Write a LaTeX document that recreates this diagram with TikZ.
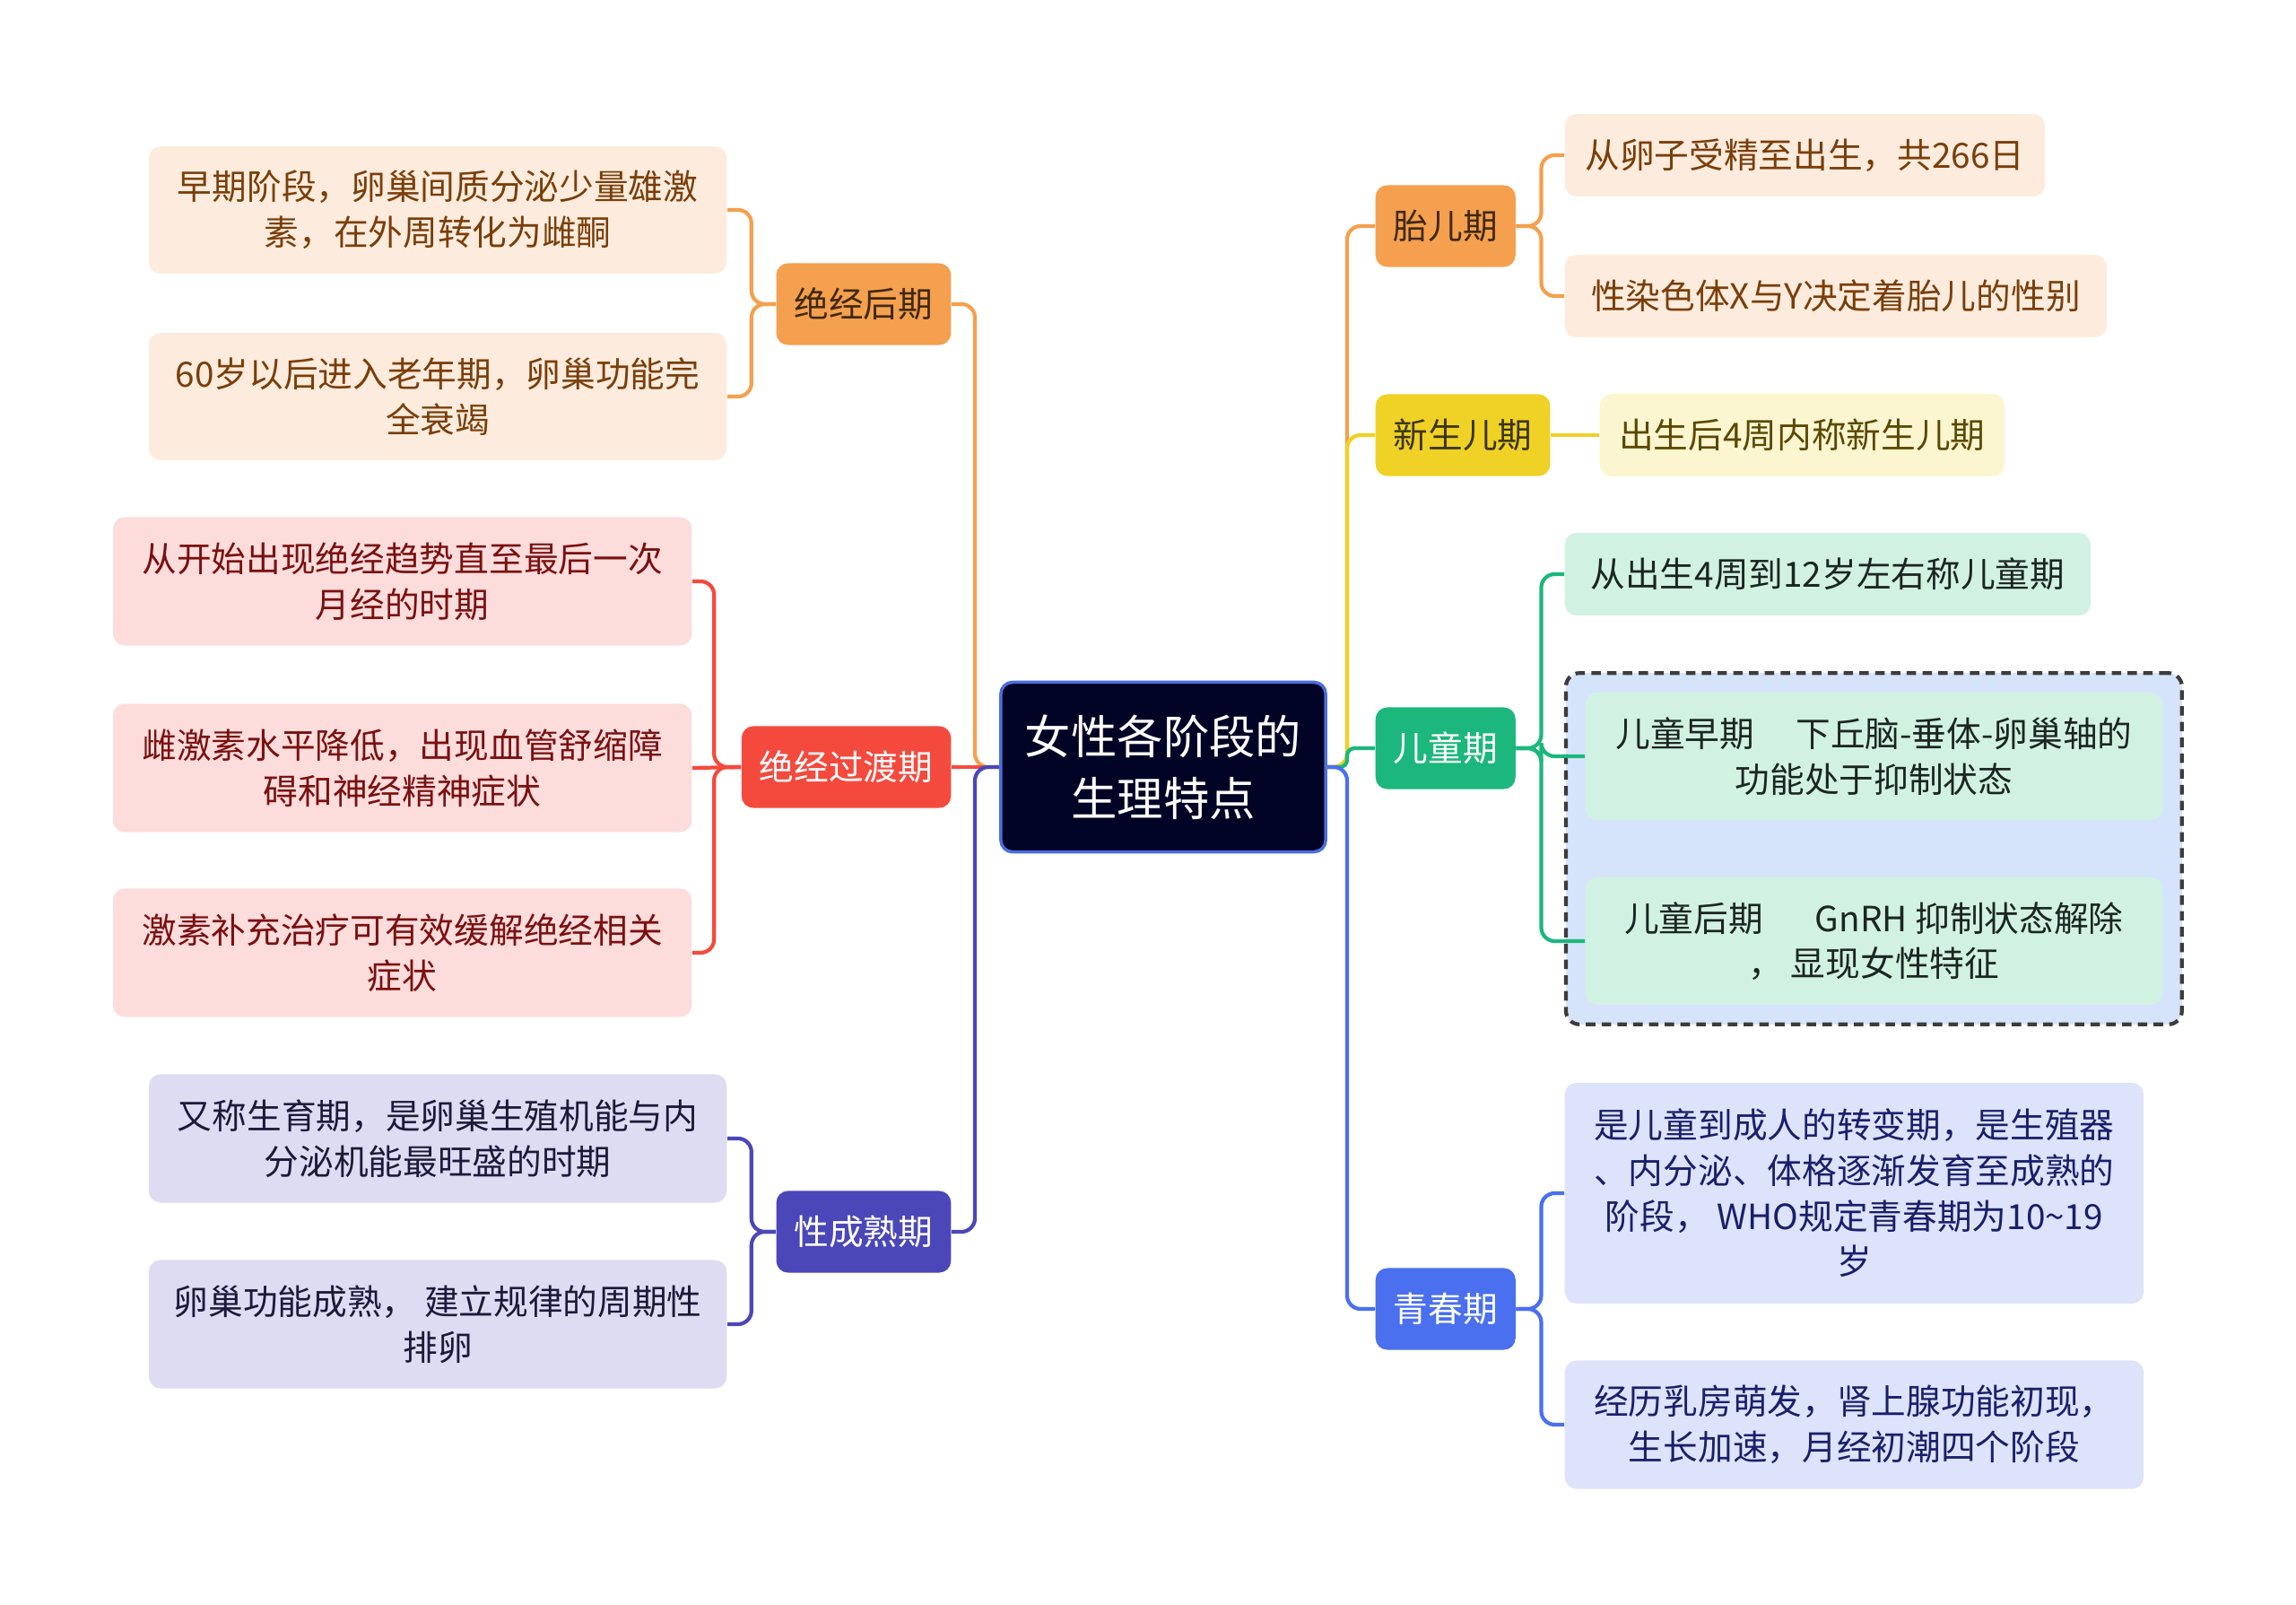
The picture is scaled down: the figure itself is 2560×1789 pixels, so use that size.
\documentclass[tikz,border=0pt]{standalone}
\usepackage{fontspec}
\setmainfont{Noto Sans CJK SC}
\usepackage{tikz}
\usetikzlibrary{positioning, fit, backgrounds}
\definecolor{rootfill}{RGB}{2, 4, 38}
\definecolor{rootline}{RGB}{74, 111, 220}
\definecolor{myorange}{RGB}{244, 160, 78}
\definecolor{orangeleaf}{RGB}{253, 236, 221}
\definecolor{orangetext}{RGB}{122, 62, 10}
\definecolor{orangedark}{RGB}{64, 40, 15}
\definecolor{myyellow}{RGB}{240, 209, 37}
\definecolor{yellowleaf}{RGB}{252, 246, 208}
\definecolor{yellowtext}{RGB}{90, 72, 0}
\definecolor{yellowdark}{RGB}{59, 53, 16}
\definecolor{mygreen}{RGB}{28, 183, 124}
\definecolor{greenleaf}{RGB}{209, 242, 226}
\definecolor{greentext}{RGB}{27, 37, 33}
\definecolor{groupfill}{RGB}{214, 228, 251}
\definecolor{groupline}{RGB}{60, 60, 60}
\definecolor{myblue}{RGB}{74, 111, 239}
\definecolor{blueleaf}{RGB}{221, 227, 250}
\definecolor{bluetext}{RGB}{26, 31, 107}
\definecolor{myred}{RGB}{244, 74, 62}
\definecolor{redleaf}{RGB}{253, 220, 220}
\definecolor{redtext}{RGB}{122, 16, 16}
\definecolor{mypurple}{RGB}{75, 71, 184}
\definecolor{purpleleaf}{RGB}{222, 220, 242}
\definecolor{purpletext}{RGB}{28, 26, 58}

\begin{document}
\begin{tikzpicture}[x=0.01cm, y=-0.01cm,
    root/.style={draw=rootline, fill=rootfill, line width=1pt, rounded corners=0.13cm, text=white, align=center,
        font=\fontsize{14.6}{19.5}\selectfont, minimum width=3.62cm, minimum height=1.89cm},
    stage/.style={rounded corners=0.13cm, inner xsep=0.2cm, inner ysep=0pt, minimum height=0.91cm,
        font=\fontsize{11}{14}\selectfont},
    leaf/.style={rounded corners=0.13cm, inner xsep=0.2cm, inner ysep=0pt, align=center,
        font=\fontsize{11}{14.4}\selectfont},
    link/.style={line width=1.2pt, rounded corners=0.15cm}]
    \useasboundingbox (0,0) rectangle (2560,1789);

    % 中心主题
    \node[root] (root) at (1297,855) {女性各阶段的\\生理特点};
    \coordinate (rt) at (1502,855);
    \coordinate (lt) at (1087,855);

    % 右侧阶段
    \node[stage, fill=myorange, text=orangedark, anchor=west] (fetal) at (1533,252) {胎儿期};
    \node[stage, fill=myyellow, text=yellowdark, anchor=west] (newborn) at (1533,485) {新生儿期};
    \node[stage, fill=mygreen, text=white, anchor=west] (child) at (1533,834) {儿童期};
    \node[stage, fill=myblue, text=white, anchor=west] (puberty) at (1533,1459) {青春期};

    % 左侧阶段
    \node[stage, fill=myorange, text=orangedark, anchor=east] (postm) at (1061,339) {绝经后期};
    \node[stage, fill=myred, text=white, anchor=east] (trans) at (1061,855) {绝经过渡期};
    \node[stage, fill=mypurple, text=white, anchor=east] (mature) at (1061,1373) {性成熟期};

    % 胎儿期
    \node[leaf, fill=orangeleaf, text=orangetext, anchor=west, minimum width=5.35cm, minimum height=0.92cm] (fetal1) at (1744,173) {从卵子受精至出生，共266日};
    \node[leaf, fill=orangeleaf, text=orangetext, anchor=west, minimum width=6.04cm, minimum height=0.92cm] (fetal2) at (1744,330) {性染色体X与Y决定着胎儿的性别};

    % 新生儿期
    \node[leaf, fill=yellowleaf, text=yellowtext, anchor=west, minimum width=4.51cm, minimum height=0.92cm] (newborn1) at (1783,485) {出生后4周内称新生儿期};

    % 儿童期
    \node[leaf, fill=greenleaf, text=greentext, anchor=west, minimum width=5.86cm, minimum height=0.92cm] (child1) at (1744,640) {从出生4周到12岁左右称儿童期};
    \node[leaf, fill=greenleaf, text=greentext, anchor=west, minimum width=6.43cm, minimum height=1.42cm] (early) at (1767,843) {儿童早期\hspace{1.2em}下丘脑-垂体-卵巢轴的\\功能处于抑制状态};
    \node[leaf, fill=greenleaf, text=greentext, anchor=west, minimum width=6.43cm, minimum height=1.42cm] (late) at (1767,1049) {儿童后期\hspace{1.5em}GnRH 抑制状态解除\\， 显现女性特征};
    \begin{scope}[on background layer]
        \node[fit=(early)(late), draw=groupline, fill=groupfill, line width=1.2pt, dash pattern=on 3pt off 2pt,
            rounded corners=0.15cm, inner sep=0.21cm] (group) {};
    \end{scope}

    % 青春期
    \node[leaf, fill=blueleaf, text=bluetext, anchor=west, minimum width=6.45cm, minimum height=2.46cm] (puberty1) at (1744,1330) {是儿童到成人的转变期，是生殖器\\、内分泌、体格逐渐发育至成熟的\\阶段， WHO规定青春期为10\textasciitilde19\\岁};
    \node[leaf, fill=blueleaf, text=bluetext, anchor=west, minimum width=6.45cm, minimum height=1.43cm] (puberty2) at (1744,1588) {经历乳房萌发，肾上腺功能初现，\\生长加速，月经初潮四个阶段};

    % 绝经后期
    \node[leaf, fill=orangeleaf, text=orangetext, anchor=east, minimum width=6.44cm, minimum height=1.42cm] (postm1) at (811,234) {早期阶段，卵巢间质分泌少量雄激\\素，在外周转化为雌酮};
    \node[leaf, fill=orangeleaf, text=orangetext, anchor=east, minimum width=6.44cm, minimum height=1.42cm] (postm2) at (811,442) {60岁以后进入老年期，卵巢功能完\\全衰竭};

    % 绝经过渡期
    \node[leaf, fill=redleaf, text=redtext, anchor=east, minimum width=6.45cm, minimum height=1.43cm] (trans1) at (772,648) {从开始出现绝经趋势直至最后一次\\月经的时期};
    \node[leaf, fill=redleaf, text=redtext, anchor=east, minimum width=6.45cm, minimum height=1.43cm] (trans2) at (772,856) {雌激素水平降低，出现血管舒缩障\\碍和神经精神症状};
    \node[leaf, fill=redleaf, text=redtext, anchor=east, minimum width=6.45cm, minimum height=1.43cm] (trans3) at (772,1062) {激素补充治疗可有效缓解绝经相关\\症状};

    % 性成熟期
    \node[leaf, fill=purpleleaf, text=purpletext, anchor=east, minimum width=6.44cm, minimum height=1.43cm] (mature1) at (811,1269) {又称生育期，是卵巢生殖机能与内\\分泌机能最旺盛的时期};
    \node[leaf, fill=purpleleaf, text=purpletext, anchor=east, minimum width=6.44cm, minimum height=1.43cm] (mature2) at (811,1476) {卵巢功能成熟， 建立规律的周期性\\排卵};

    % 主干连线
    \draw[link, myorange] (root.east) -- (rt) |- (fetal.west);
    \draw[link, myyellow] (root.east) -- (rt) |- (newborn.west);
    \draw[link, mygreen, rounded corners=0.08cm] (root.east) -- (rt) |- (child.west);
    \draw[link, myblue] (root.east) -- (rt) |- (puberty.west);
    \draw[link, myorange] (root.west) -- (lt) |- (postm.east);
    \draw[link, myred] (root.west) -- (trans.east);
    \draw[link, mypurple] (root.west) -- (lt) |- (mature.east);

    % 分支连线
    \draw[link, myorange] (fetal.east) -- ++(28,0) |- (fetal1.west);
    \draw[link, myorange] (fetal.east) -- ++(28,0) |- (fetal2.west);
    \draw[link, myyellow] (newborn.east) -- (newborn1.west);
    \draw[link, mygreen] (child.east) -- ++(28,0) |- (child1.west);
    \draw[link, mygreen] (child.east) -- ++(28,0) |- (early.west);
    \draw[link, mygreen] (child.east) -- ++(28,0) |- (late.west);
    \draw[link, myblue] (puberty.east) -- ++(28,0) |- (puberty1.west);
    \draw[link, myblue] (puberty.east) -- ++(28,0) |- (puberty2.west);
    \draw[link, myorange] (postm.west) -- ++(-27,0) |- (postm1.east);
    \draw[link, myorange] (postm.west) -- ++(-27,0) |- (postm2.east);
    \draw[link, myred] (trans.west) -- ++(-30,0) |- (trans1.east);
    \draw[link, myred] (trans.west) -- (trans2.east);
    \draw[link, myred] (trans.west) -- ++(-30,0) |- (trans3.east);
    \draw[link, mypurple] (mature.west) -- ++(-27,0) |- (mature1.east);
    \draw[link, mypurple] (mature.west) -- ++(-27,0) |- (mature2.east);
\end{tikzpicture}
\end{document}
